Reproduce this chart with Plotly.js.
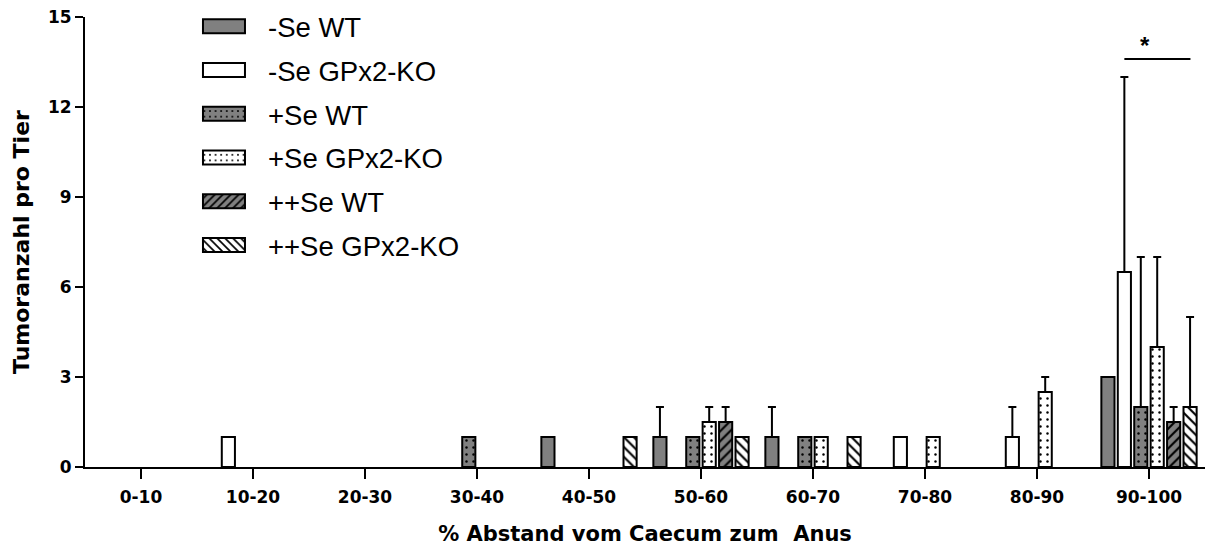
<!DOCTYPE html>
<html><head><meta charset="utf-8">
<script src="https://cdn.plot.ly/plotly-3.0.1.min.js"></script>
<style>html,body{margin:0;padding:0;background:#fff}</style>
</head><body>
<div id="chart" style="width:1210px;height:549px"></div>
<script>
var categories = ['0-10','10-20','20-30','30-40','40-50','50-60','60-70','70-80','80-90','90-100'];
var seriesNames = ['-Se WT','-Se GPx2-KO','+Se WT','+Se GPx2-KO','++Se WT','++Se GPx2-KO'];
var seWT      = [0, 0, 0, 0, 1, 1,   1, 0, 0,   3];
var seKO      = [0, 1, 0, 0, 0, 0,   0, 1, 1,   6.5];
var plusWT    = [0, 0, 0, 1, 0, 1,   1, 0, 0,   2];
var plusKO    = [0, 0, 0, 0, 0, 1.5, 1, 1, 2.5, 4];
var pplusWT   = [0, 0, 0, 0, 0, 1.5, 0, 0, 0,   1.5];
var pplusKO   = [0, 0, 0, 0, 1, 1,   1, 0, 0,   2];
var errSeWT    = [0, 0, 0, 0, 0, 1,   1, 0, 0,   0];
var errSeKO    = [0, 0, 0, 0, 0, 0,   0, 0, 1,   6.5];
var errPlusWT  = [0, 0, 0, 0, 0, 0,   0, 0, 0,   5];
var errPlusKO  = [0, 0, 0, 0, 0, 0.5, 0, 0, 0.5, 3];
var errPplusWT = [0, 0, 0, 0, 0, 0.5, 0, 0, 0,   0.5];
var errPplusKO = [0, 0, 0, 0, 0, 0,   0, 0, 0,   3];

var values = [seWT, seKO, plusWT, plusKO, pplusWT, pplusKO];
var errs = [errSeWT, errSeKO, errPlusWT, errPlusKO, errPplusWT, errPplusKO];
var GRAY = '#808080';
var styles = [
  {bg: GRAY, shape: ''},
  {bg: '#ffffff', shape: ''},
  {bg: GRAY, shape: '.'},
  {bg: '#ffffff', shape: '.'},
  {bg: GRAY, shape: '/'},
  {bg: '#ffffff', shape: '\\'}
];
var TITLE_FONT = 'DejaVu Sans, sans-serif';
var TEXT_FONT = 'Liberation Sans, Arial, sans-serif';

var traces = seriesNames.map(function(name, i){
  var st = styles[i];
  var marker = {color: st.bg, line: {color: '#000', width: 2}};
  if (st.shape) {
    marker.pattern = {shape: st.shape, fgcolor: '#000', bgcolor: st.bg,
      size: 7, solidity: st.shape === '.' ? 0.1 : 0.3, fillmode: 'replace'};
  }
  return {
    type: 'bar', name: name, x: categories,
    y: values[i].map(function(v){ return v === 0 ? null : v; }),
    legendgroup: 'g' + i,
    marker: marker,
    error_y: {type: 'data', symmetric: false, array: errs[i].map(function(e){return e>0?e:null;}),
      arrayminus: errs[i].map(function(e){return e>0?0:null;}),
      color: '#000', thickness: 2, width: 4},
    hoverinfo: 'skip'
  };
});

var layout = {
  width: 1210, height: 549,
  margin: {l: 85, r: 5, t: 17, b: 82, autoexpand: false},
  paper_bgcolor: '#fff', plot_bgcolor: '#fff',
  barmode: 'group', bargap: 0.12, bargroupgap: 0.2,
  font: {family: TEXT_FONT, color: '#000'},
  showlegend: true,
  legend: {x: 0.0848, y: 0.9964, yref: 'container', xanchor: 'left', yanchor: 'top',
    font: {size: 27.5, family: TEXT_FONT},
    tracegroupgap: 5, itemwidth: 78, bgcolor: 'rgba(0,0,0,0)'},
  xaxis: {
    type: 'category', range: [-0.5, 9.5], showgrid: false, zeroline: false,
    showline: true, linecolor: '#000', linewidth: 2,
    ticks: 'outside', ticklen: 10, tickwidth: 2, tickcolor: '#000',
    ticklabelstandoff: 4,
    tickfont: {size: 17, family: TITLE_FONT, weight: 700},
    title: {text: '% Abstand vom Caecum zum\u00a0 Anus', font: {size: 21, family: TITLE_FONT, weight: 700}, standoff: 20}
  },
  yaxis: {
    range: [0, 15], tickvals: [0, 3, 6, 9, 12, 15], showgrid: false, zeroline: false,
    showline: true, linecolor: '#000', linewidth: 2,
    ticks: 'outside', ticklen: 8, tickwidth: 2, tickcolor: '#000',
    tickfont: {size: 17, family: TITLE_FONT, weight: 700},
    title: {text: 'Tumoranzahl pro Tier', font: {size: 22, family: TITLE_FONT, weight: 700}, standoff: 12}
  },
  shapes: [
    {type: 'line', xref: 'x', yref: 'y', x0: 8.78, x1: 9.37, y0: 13.6, y1: 13.6,
     line: {color: '#000', width: 2}}
  ],
  annotations: [
    {xref: 'x', yref: 'y', x: 8.96, y: 13.6, text: '<b>*</b>', showarrow: false,
     yanchor: 'bottom', yshift: -2, font: {size: 24, color: '#000', family: TEXT_FONT}}
  ]
};

var gd = document.getElementById('chart');
function widenLegendSymbols(){
  var paths = gd.querySelectorAll('.legend .legendpoints path');
  paths.forEach(function(p){ p.setAttribute('d', 'M21,7H-21V-7H21Z'); });
}
Plotly.newPlot(gd, traces, layout, {displayModeBar: false, staticPlot: true}).then(function(){
  widenLegendSymbols();
  gd.on('plotly_afterplot', widenLegendSymbols);
});
</script>
</body></html>
